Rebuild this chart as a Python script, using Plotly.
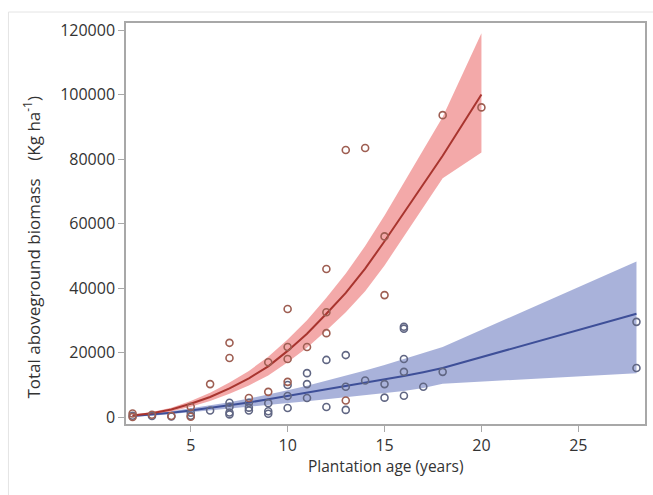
import plotly.graph_objects as go

# ---- observed data ----
red_x = [2, 2, 3, 4, 5, 5, 6, 7, 7, 8, 9, 9, 10, 10, 10, 10, 11, 12, 12, 12, 13, 13, 14, 15, 15, 18, 20]
red_y = [1100, 0, 700, 300, 3200, 100, 10200, 23000, 18300, 5900, 17000, 7800, 33500, 21700, 18000, 10900,
         21700, 45900, 32500, 26000, 82800, 5100, 83400, 56000, 37800, 93600, 96000]

blue_x = [2, 3, 4, 5, 5, 6, 7, 7, 7, 7, 8, 8, 8, 9, 9, 9, 10, 10, 10, 11, 11, 11, 12, 12, 13, 13, 13,
          14, 15, 15, 16, 16, 16, 16, 16, 17, 18, 28, 28]
blue_y = [400, 300, 200, 1300, 400, 2000, 4400, 3200, 1400, 800, 4400, 2900, 2000, 4300, 1800, 1000,
          9900, 6500, 2800, 13600, 10200, 5900, 17700, 3100, 19200, 9400, 2200,
          11300, 10200, 6000, 28000, 27400, 18000, 14000, 6600, 9400, 14000, 29500, 15200]

# ---- fitted curves and confidence bands ----
red_fx = [2, 3, 4, 5, 6, 7, 8, 9, 10, 11, 12, 13, 14, 15, 18, 20]
red_fit = [500, 1150, 2300, 4100, 6200, 8900, 12000, 15700, 20500, 25800, 32000, 38500, 46000, 54500, 81000, 100000]
red_lo = [300, 800, 1700, 3200, 5000, 7200, 9800, 12900, 17000, 21500, 26800, 32500, 39000, 47000, 74000, 82000]
red_hi = [800, 1550, 2900, 5000, 7500, 10700, 14300, 18700, 24000, 30000, 37000, 44500, 53000, 62500, 93000, 119000]

blue_fx = [2, 3, 4, 5, 6, 7, 8, 9, 10, 11, 12, 13, 14, 15, 16, 17, 18, 28]
blue_fit = [300, 700, 1300, 2000, 2800, 3600, 4500, 5500, 6500, 7500, 8500, 9500, 10500, 11500, 12700, 13900, 15200, 32000]
blue_lo = [100, 400, 900, 1400, 1900, 2500, 3100, 3700, 4300, 4900, 5500, 6100, 6800, 7400, 8100, 9000, 10300, 13600]
blue_hi = [500, 1000, 1800, 2700, 3600, 4600, 5700, 6900, 8300, 9700, 11200, 12800, 14400, 16100, 18000, 19800, 21700, 48200]

x_ticks = [5, 10, 15, 20, 25]
y_ticks = [0, 20000, 40000, 60000, 80000, 100000, 120000]

RED_FILL = "rgba(240,145,145,0.78)"
RED_LINE = "#A8352F"
BLUE_FILL = "rgba(140,152,205,0.75)"
BLUE_LINE = "#3E4F98"
RED_MK = "#9E5E52"
BLUE_MK = "#606683"

fig = go.Figure()

fig.add_trace(go.Scatter(x=blue_fx + blue_fx[::-1], y=blue_hi + blue_lo[::-1], fill="toself",
                         fillcolor=BLUE_FILL, line=dict(width=0), mode="lines", hoverinfo="skip"))
fig.add_trace(go.Scatter(x=red_fx + red_fx[::-1], y=red_hi + red_lo[::-1], fill="toself",
                         fillcolor=RED_FILL, line=dict(width=0), mode="lines", hoverinfo="skip"))
fig.add_trace(go.Scatter(x=blue_fx, y=blue_fit, mode="lines", line=dict(color=BLUE_LINE, width=2)))
fig.add_trace(go.Scatter(x=red_fx, y=red_fit, mode="lines", line=dict(color=RED_LINE, width=2)))
fig.add_trace(go.Scatter(x=blue_x, y=blue_y, mode="markers",
                         marker=dict(symbol="circle-open", size=7, color=BLUE_MK, line=dict(width=1.6))))
fig.add_trace(go.Scatter(x=red_x, y=red_y, mode="markers",
                         marker=dict(symbol="circle-open", size=7, color=RED_MK, line=dict(width=1.6))))

axis_common = dict(showgrid=False, zeroline=False, showline=True, linecolor="#A8A8A8", linewidth=1.5,
                   mirror=True, ticks="outside", ticklen=6, tickcolor="#A8A8A8", tickwidth=1,
                   tickformat="d",
                   tickfont=dict(family="Open Sans", size=16, color="#333333"))

fig.update_layout(
    width=653, height=495,
    margin=dict(l=126, r=6, t=23, b=71),
    paper_bgcolor="white", plot_bgcolor="white",
    showlegend=False,
    xaxis=dict(range=[1.66, 28.44], tickvals=x_ticks, **axis_common),
    yaxis=dict(range=[-2170, 122170], tickvals=y_ticks, **axis_common),
    annotations=[
        dict(text="Plantation age (years)", xref="paper", yref="paper", x=0.5, y=-0.105,
             xanchor="center", yanchor="middle", showarrow=False,
             font=dict(family="Open Sans", size=15.5, color="#333333")),
        dict(text="Total aboveground biomass    (Kg ha<sup>-1</sup>)", xref="paper", yref="paper",
             x=-0.181, y=0.44, textangle=-90, xanchor="center", yanchor="middle", showarrow=False,
             font=dict(family="Open Sans", size=17, color="#333333")),
    ],
    shapes=[
        dict(type="line", xref="paper", yref="paper", x0=-0.2265, x1=1.02, y0=1.0274, y1=1.0274,
             line=dict(color="#E4E4E4", width=1)),
        dict(type="line", xref="paper", yref="paper", x0=-0.2265, x1=-0.2265, y0=-0.2, y1=1.0274,
             line=dict(color="#E4E4E4", width=1)),
    ],
)

fig.write_html("out.html")
